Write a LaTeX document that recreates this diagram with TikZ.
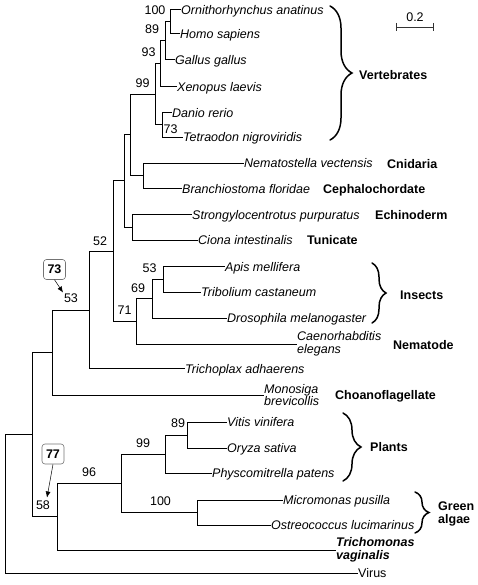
\documentclass[tikz,border=0pt]{standalone}
\usepackage{fontspec}
\setmainfont{Liberation Sans}
\usetikzlibrary{arrows.meta,decorations.pathreplacing}
\tikzset{
  fs/.style={font=\fontsize{12.5}{12.5}\selectfont},
  br/.style={line width=1pt, black},
  leaf/.style={anchor=west, inner sep=0pt, font=\fontsize{12.5}{12.5}\selectfont\itshape, text height=9pt, text depth=0pt},
  leaftwo/.style={anchor=west, inner sep=0pt, font=\fontsize{12.5}{12.5}\selectfont\itshape, align=left},
  grp/.style={anchor=west, inner sep=0pt, font=\fontsize{12.5}{12.5}\selectfont\bfseries, text height=9pt, text depth=0pt},
  grptwo/.style={anchor=west, inner sep=0pt, font=\fontsize{12.5}{13}\selectfont\bfseries, align=left},
  sup/.style={inner sep=0pt, font=\fontsize{12.5}{12.5}\selectfont},
  boxlab/.style={draw=black!55, rounded corners=3pt, line width=0.6pt, minimum width=22pt, minimum height=20pt, inner sep=0pt, font=\fontsize{12.5}{12.5}\selectfont\bfseries},
  arr/.style={line width=0.5pt, -{Latex[length=6pt,width=5pt]}},
  brc/.style={decorate, line width=1.5pt, line cap=round},
}
\begin{document}
\begin{tikzpicture}[x=1pt,y=-1pt]
\useasboundingbox (0,0) rectangle (478,585);
% leaves
\node[leaf] (orn) at (181,10) {Ornithorhynchus anatinus};
\node[leaf] (hom) at (180,34) {Homo sapiens};
\node[leaf] (gal) at (175,60) {Gallus gallus};
\node[leaf] (xen) at (177,87) {Xenopus laevis};
\node[leaf] (dan) at (172,113) {Danio rerio};
\node[leaf] (tet) at (183,137.5) {Tetraodon nigroviridis};
\node[leaf] (nem) at (244,163.5) {Nematostella vectensis};
\node[leaf] (bra) at (182,189) {Branchiostoma floridae};
\node[leaf] (str) at (192,214.5) {Strongylocentrotus purpuratus};
\node[leaf] (cio) at (198,240) {Ciona intestinalis};
\node[leaf] (api) at (225,266.5) {Apis mellifera};
\node[leaf] (tri) at (201,292) {Tribolium castaneum};
\node[leaf] (dro) at (227,318) {Drosophila melanogaster};
\node[leaftwo] (cae) at (297,344) {Caenorhabditis\\elegans};
\node[leaf] (trp) at (185,368.5) {Trichoplax adhaerens};
\node[leaftwo] (mon) at (264,395) {Monosiga\\brevicollis};
\node[leaf] (vit) at (227,422) {Vitis vinifera};
\node[leaf] (ory) at (227,448) {Oryza sativa};
\node[leaf] (phy) at (212,473) {Physcomitrella patens};
\node[leaf] (mic) at (283,500) {Micromonas pusilla};
\node[leaf] (ost) at (271,525) {Ostreococcus lucimarinus};
\node[leaftwo, font=\fontsize{12.5}{12.5}\selectfont\bfseries\itshape] (trm) at (336,550) {Trichomonas\\vaginalis};
\node[leaf, font=\fontsize{12.5}{12.5}\selectfont] (vir) at (358,573) {Virus};
% internal nodes
\coordinate (n100) at (170,22);
\coordinate (n89) at (165,41);
\coordinate (n93) at (160,64);
\coordinate (nDT) at (162,125);
\coordinate (nA) at (155,94.5);
\coordinate (nCn) at (143,176);
\coordinate (nB) at (130,135);
\coordinate (nEc) at (132,227);
\coordinate (nC) at (124,181);
\coordinate (nG) at (163,279);
\coordinate (nF) at (152,298.5);
\coordinate (nE) at (136,321);
\coordinate (nD) at (113,251);
\coordinate (nH1) at (89,310);
\coordinate (nH) at (52,352.5);
\coordinate (n89p) at (187,435);
\coordinate (nK) at (165,454);
\coordinate (nGA) at (197,512.5);
\coordinate (nJ) at (121,483);
\coordinate (nI) at (57,516.5);
\coordinate (nR1) at (32,434.5);
\coordinate (root) at (5,504);
% edges
\draw[br] (n100) |- (orn.west);
\draw[br] (n100) |- (hom.west);
\draw[br] (n89) |- (n100);
\draw[br] (n89) |- (gal.west);
\draw[br] (n93) |- (n89);
\draw[br] (n93) |- (xen.west);
\draw[br] (nDT) |- (dan.west);
\draw[br] (nDT) |- (tet.west);
\draw[br] (nA) |- (n93);
\draw[br] (nA) |- (nDT);
\draw[br] (nCn) |- (nem.west);
\draw[br] (nCn) |- (bra.west);
\draw[br] (nB) |- (nA);
\draw[br] (nB) |- (nCn);
\draw[br] (nEc) |- (str.west);
\draw[br] (nEc) |- (cio.west);
\draw[br] (nC) |- (nB);
\draw[br] (nC) |- (nEc);
\draw[br] (nG) |- (api.west);
\draw[br] (nG) |- (tri.west);
\draw[br] (nF) |- (nG);
\draw[br] (nF) |- (dro.west);
\draw[br] (nE) |- (nF);
\draw[br] (nE) |- (cae.west);
\draw[br] (nD) |- (nC);
\draw[br] (nD) |- (nE);
\draw[br] (nH1) |- (nD);
\draw[br] (nH1) |- (trp.west);
\draw[br] (nH) |- (nH1);
\draw[br] (nH) |- (mon.west);
\draw[br] (n89p) |- (vit.west);
\draw[br] (n89p) |- (ory.west);
\draw[br] (nK) |- (n89p);
\draw[br] (nK) |- (phy.west);
\draw[br] (nGA) |- (mic.west);
\draw[br] (nGA) |- (ost.west);
\draw[br] (nJ) |- (nK);
\draw[br] (nJ) |- (nGA);
\draw[br] (nI) |- (nJ);
\draw[br] (nI) |- (trm.west);
\draw[br] (nR1) |- (nH);
\draw[br] (nR1) |- (nI);
\draw[br] (root) |- (nR1);
\draw[br] (root) |- (vir.west);
% support values
\node[sup] (s100a) at (155,10.5) {100};
\node[sup] (s89a) at (152,29.5) {89};
\node[sup] (s93) at (148.5,52.5) {93};
\node[sup] (s99a) at (142.5,83) {99};
\node[sup, anchor=north west] (s73) at (163.5,125) {73};
\node[sup] (s52) at (100,241) {52};
\node[sup] (s53a) at (149.5,268) {53};
\node[sup] (s69) at (138,288) {69};
\node[sup] (s71) at (124.5,310.5) {71};
\node[sup] (s53b) at (71,298.5) {53};
\node[sup] (s89b) at (178,423) {89};
\node[sup] (s99b) at (143,443.5) {99};
\node[sup] (s100b) at (160.5,501) {100};
\node[sup] (s96) at (89,472) {96};
\node[sup] (s58) at (43,505) {58};
% boxed values with arrows
\node[boxlab] (b73) at (54.5,269.5) {73};
\node[boxlab] (b77) at (53,454) {77};
\coordinate (t73) at (63,292.5);
\coordinate (t77) at (47,497.5);
\draw[arr] (b73.south) -- (t73);
\draw[arr] (b77.south) -- (t77);
% braces
\draw[brc, decoration={brace, amplitude=22pt}] (330,6) -- (330,140);
\draw[brc, decoration={brace, amplitude=14pt}] (372,263) -- (372,323);
\draw[brc, decoration={brace, amplitude=18pt}] (343,413) -- (343,481);
\draw[brc, decoration={brace, amplitude=14pt}] (415,492) -- (415,533);
% group labels
\node[grp] (gVert) at (359,75) {Vertebrates};
\node[grp] (gCni) at (387,164) {Cnidaria};
\node[grp] (gCep) at (323,189) {Cephalochordate};
\node[grp] (gEch) at (375,215) {Echinoderm};
\node[grp] (gTun) at (307,240) {Tunicate};
\node[grp] (gIns) at (400,294.5) {Insects};
\node[grp] (gNem) at (393,345) {Nematode};
\node[grp] (gCho) at (335,394.5) {Choanoflagellate};
\node[grp] (gPla) at (370,447) {Plants};
\node[grptwo] (gGre) at (438,514) {Green\\algae};
% scale bar
\coordinate (sb1) at (396,27);
\coordinate (sb2) at (433,27);
\draw[line width=0.6pt, black!80] (sb1) -- (sb2);
\draw[line width=0.6pt, black!80] ([yshift=4pt]sb1) -- ([yshift=-4pt]sb1);
\draw[line width=0.6pt, black!80] ([yshift=4pt]sb2) -- ([yshift=-4pt]sb2);
\node[sup] (sbl) at (415,17.5) {0.2};
\end{tikzpicture}
\end{document}
